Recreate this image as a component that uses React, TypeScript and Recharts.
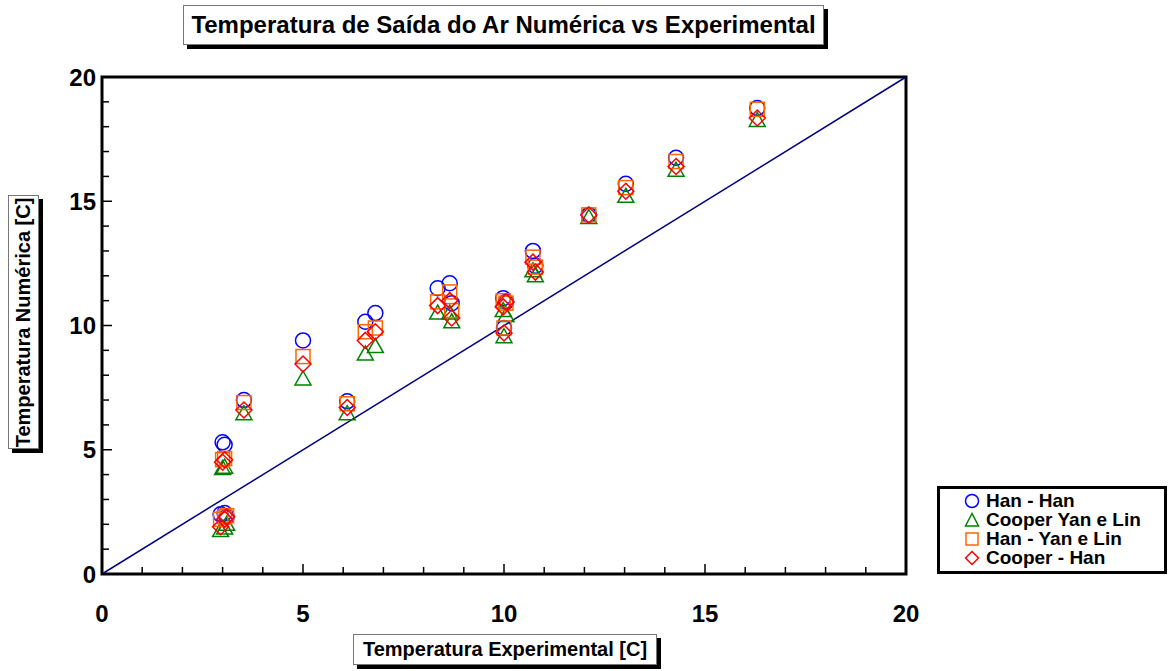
import { ScatterChart, Scatter, XAxis, YAxis, ReferenceLine, ReferenceArea } from 'recharts'

// experimental temperature of each run [C]
const expTemp = [2.95, 3.05, 3.1, 3.0, 3.05, 3.53, 5.0, 6.1, 6.55, 6.8, 8.35, 8.65, 8.7, 9.98, 10.05, 10.0, 10.72, 10.78, 12.11, 13.03, 14.28, 16.3]

// numerical results per model combination [C]
const hanHan = [2.4, 2.45, 2.3, 5.3, 5.2, 7.0, 9.4, 6.95, 10.15, 10.5, 11.5, 11.7, 10.9, 11.1, 10.95, 9.9, 13.0, 12.4, 14.45, 15.7, 16.75, 18.75]
const cooperYanLin = [1.75, 1.85, 2.0, 4.25, 4.3, 6.45, 7.85, 6.45, 8.85, 9.15, 10.5, 10.5, 10.15, 10.6, 10.4, 9.55, 12.2, 12.0, 14.35, 15.2, 16.25, 18.25]
const hanYanLin = [2.2, 2.3, 2.35, 4.6, 4.65, 6.9, 8.75, 6.85, 9.75, 9.9, 10.95, 11.35, 10.6, 11.0, 10.9, 9.9, 12.75, 12.35, 14.45, 15.55, 16.6, 18.7]
const cooperHan = [1.9, 2.2, 2.3, 4.5, 4.6, 6.6, 8.45, 6.7, 9.4, 9.75, 10.8, 11.0, 10.3, 10.75, 10.95, 9.7, 12.55, 12.15, 14.45, 15.4, 16.4, 18.35]

const axisTicks = [0, 1, 2, 3, 4, 5, 6, 7, 8, 9, 10, 11, 12, 13, 14, 15, 16, 17, 18, 19, 20]

const toPoints = (ys: number[]) => expTemp.map((x, i) => ({ x, y: ys[i] }))

const FONT = 'Arial, "Liberation Sans", Helvetica, sans-serif'

const COLORS = {
  hanHan: '#0000ff',
  cooperYanLin: '#008000',
  hanYanLin: '#ff6600',
  cooperHan: '#ff0000',
}

const circleShape = (p: any) => (
  <circle cx={p.cx} cy={p.cy} r={7.5} fill="none" stroke={COLORS.hanHan} strokeWidth={1.5} />
)
const triangleShape = (p: any) => (
  <polygon
    points={`${p.cx},${p.cy - 8} ${p.cx - 8},${p.cy + 6} ${p.cx + 8},${p.cy + 6}`}
    fill="none"
    stroke={COLORS.cooperYanLin}
    strokeWidth={1.5}
  />
)
const squareShape = (p: any) => (
  <rect x={p.cx - 7} y={p.cy - 7} width={14} height={14} fill="none" stroke={COLORS.hanYanLin} strokeWidth={1.5} />
)
const diamondShape = (p: any) => (
  <polygon
    points={`${p.cx},${p.cy - 8} ${p.cx + 8},${p.cy} ${p.cx},${p.cy + 8} ${p.cx - 8},${p.cy}`}
    fill="none"
    stroke={COLORS.cooperHan}
    strokeWidth={1.5}
  />
)

function XTick(props: any) {
  const { x, y, payload } = props
  const major = payload.value % 5 === 0
  return (
    <g>
      <line x1={x} x2={x} y1={y} y2={y - (major ? 10 : 7)} stroke="#000" strokeWidth={1.5} />
      {major && (
        <text x={x} y={y + 39} textAnchor="middle" dominantBaseline="central" fontFamily={FONT} fontWeight="bold" fontSize={24} fill="#000">
          {payload.value}
        </text>
      )}
    </g>
  )
}

function YTick(props: any) {
  const { x, y, payload } = props
  const major = payload.value % 5 === 0
  return (
    <g>
      <line x1={x} x2={x + (major ? 10 : 7)} y1={y} y2={y} stroke="#000" strokeWidth={1.5} />
      {major && (
        <text x={x - 6} y={y} textAnchor="end" dominantBaseline="central" fontFamily={FONT} fontWeight="bold" fontSize={24} fill="#000">
          {payload.value}
        </text>
      )}
    </g>
  )
}

const legendItems = [
  { name: 'Han - Han', shape: 'circle', color: COLORS.hanHan },
  { name: 'Cooper Yan e Lin', shape: 'triangle', color: COLORS.cooperYanLin },
  { name: 'Han - Yan e Lin', shape: 'square', color: COLORS.hanYanLin },
  { name: 'Cooper - Han', shape: 'diamond', color: COLORS.cooperHan },
]

function LegendIcon({ shape, color }: { shape: string; color: string }) {
  return (
    <svg width={16} height={16} style={{ display: 'block', flex: 'none' }}>
      {shape === 'circle' && <circle cx={8} cy={8} r={6.5} fill="none" stroke={color} strokeWidth={1.5} />}
      {shape === 'triangle' && <polygon points="8,1.5 1.5,14 14.5,14" fill="none" stroke={color} strokeWidth={1.5} />}
      {shape === 'square' && <rect x={2} y={2} width={12} height={12} fill="none" stroke={color} strokeWidth={1.5} />}
      {shape === 'diamond' && <polygon points="8,1.5 14.5,8 8,14.5 1.5,8" fill="none" stroke={color} strokeWidth={1.5} />}
    </svg>
  )
}

const boxStyle = {
  position: 'absolute' as const,
  background: '#fff',
  border: '1px solid #777',
  boxShadow: '4px 4px 0 #000',
  fontFamily: FONT,
  fontWeight: 'bold' as const,
  color: '#000',
  display: 'flex',
  alignItems: 'center',
  justifyContent: 'center',
  boxSizing: 'border-box' as const,
  whiteSpace: 'nowrap' as const,
}

export default function App() {
  return (
    <div style={{ position: 'absolute', left: 0, top: 0, width: 1172, height: 671, background: '#fff', overflow: 'hidden' }}>
      <ScatterChart width={1172} height={671} margin={{ top: 77, right: 266, bottom: 57, left: 42 }}>
        <XAxis
          type="number"
          dataKey="x"
          domain={[0, 20]}
          ticks={axisTicks}
          interval={0}
          tickSize={0}
          tickMargin={0}
          height={40}
          axisLine={false}
          tickLine={false}
          tick={<XTick />}
        />
        <YAxis
          type="number"
          dataKey="y"
          domain={[0, 20]}
          ticks={axisTicks}
          interval={0}
          tickSize={0}
          tickMargin={0}
          width={60}
          axisLine={false}
          tickLine={false}
          tick={<YTick />}
        />
        <ReferenceLine segment={[{ x: 0, y: 0 }, { x: 20, y: 20 }]} stroke="#000080" strokeWidth={1.5} />
        <Scatter name="Han - Han" data={toPoints(hanHan)} shape={circleShape} isAnimationActive={false} />
        <Scatter name="Cooper Yan e Lin" data={toPoints(cooperYanLin)} shape={triangleShape} isAnimationActive={false} />
        <Scatter name="Han - Yan e Lin" data={toPoints(hanYanLin)} shape={squareShape} isAnimationActive={false} />
        <Scatter name="Cooper - Han" data={toPoints(cooperHan)} shape={diamondShape} isAnimationActive={false} />
        <ReferenceArea x1={0} x2={20} y1={0} y2={20} fill="none" stroke="#000" strokeWidth={3} />
      </ScatterChart>

      {/* title */}
      <div style={{ ...boxStyle, left: 183, top: 5, width: 641, height: 40, fontSize: 24 }}>
        Temperatura de Saída do Ar Numérica vs Experimental
      </div>

      {/* y label */}
      <div style={{ ...boxStyle, left: 8, top: 195, width: 31, height: 254 }}>
        <span style={{ transform: 'rotate(-90deg)', fontSize: 20 }}>Temperatura Numérica [C]</span>
      </div>

      {/* x label */}
      <div style={{ ...boxStyle, left: 353, top: 634, width: 304, height: 31, fontSize: 20 }}>
        Temperatura Experimental [C]
      </div>

      {/* legend */}
      <div
        style={{
          position: 'absolute',
          left: 937,
          top: 486,
          width: 230,
          height: 88,
          border: '3px solid #000',
          boxSizing: 'border-box',
          background: '#fff',
          fontFamily: FONT,
          fontWeight: 'bold',
          fontSize: 19,
          paddingTop: 2,
          paddingLeft: 24,
        }}
      >
        {legendItems.map((item) => (
          <div key={item.name} style={{ display: 'flex', alignItems: 'center', height: 19, gap: 6, whiteSpace: 'nowrap' }}>
            <LegendIcon shape={item.shape} color={item.color} />
            <span>{item.name}</span>
          </div>
        ))}
      </div>
    </div>
  )
}
